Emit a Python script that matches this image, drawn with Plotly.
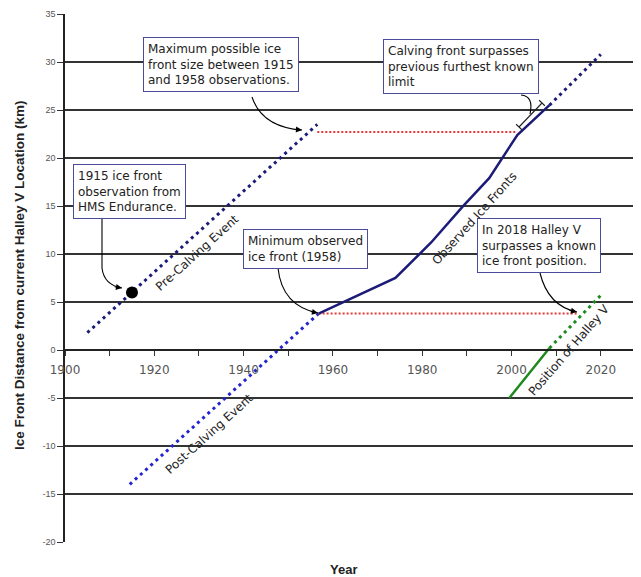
import plotly.graph_objects as go

# ---------------- data ----------------
pre_years = [1905.0, 1956.5]
pre_vals = [1.8, 23.5]

post_years = [1914.5, 1956.8]
post_vals = [-14.0, 3.8]

obs_years = [1956.8, 1974.0, 1982.0, 1989.0, 1995.0, 2001.3, 2008.5]
obs_vals = [3.8, 7.5, 11.2, 14.9, 17.9, 22.4, 25.5]

obs_proj_years = [2008.5, 2020.0]
obs_proj_vals = [25.5, 30.8]

max_years = [1956.5, 2001.3]
max_vals = [22.7, 22.7]

min_years = [1956.8, 2015.0]
min_vals = [3.8, 3.8]

halley_years = [1999.5, 2004.0, 2008.5]
halley_vals = [-5.0, -2.4, 0.2]

halley_proj_years = [2008.5, 2020.0]
halley_proj_vals = [0.2, 5.7]

obs1915_year = [1915]
obs1915_val = [6.0]

x_ticks = [1900, 1920, 1940, 1960, 1980, 2000, 2020]
y_ticks = [-20, -15, -10, -5, 0, 5, 10, 15, 20, 25, 30, 35]

# ---------------- geometry helpers (layout only) ----------------
BODY = 8                      # default page body margin
W, H = 641 - BODY, 577 - BODY
PL, PT, PR, PB = 65, 14, 641, 542   # plot area in page pixels
X0, X1 = 1900, 2029
Y0, Y1 = -20, 35
pw = PR - PL
ph = PB - PT


def dx(px):
    return X0 + (px - PL) / pw * (X1 - X0)


def dy(py):
    return Y1 - (py - PT) / ph * (Y1 - Y0)


def pxp(px):
    return (px - PL) / pw


def pyp(py):
    return (PB - py) / ph


fig = go.Figure()

NAVY = "#1c1c78"
BLUE = "#2323d0"
RED = "#e63838"
GREEN = "#1e8a1e"

fig.add_trace(go.Scatter(x=pre_years, y=pre_vals, mode="lines",
                         line=dict(color=NAVY, width=3, dash="3px,4px")))
fig.add_trace(go.Scatter(x=post_years, y=post_vals, mode="lines",
                         line=dict(color=BLUE, width=3, dash="3px,4px")))
fig.add_trace(go.Scatter(x=max_years, y=max_vals, mode="lines",
                         line=dict(color=RED, width=2, dash="2px,2px")))
fig.add_trace(go.Scatter(x=min_years, y=min_vals, mode="lines",
                         line=dict(color=RED, width=2, dash="2px,2px")))
fig.add_trace(go.Scatter(x=obs_years, y=obs_vals, mode="lines",
                         line=dict(color=NAVY, width=2.5)))
fig.add_trace(go.Scatter(x=obs_proj_years, y=obs_proj_vals, mode="lines",
                         line=dict(color=NAVY, width=3, dash="3px,4px")))
fig.add_trace(go.Scatter(x=halley_years, y=halley_vals, mode="lines",
                         line=dict(color=GREEN, width=2.5, shape="spline")))
fig.add_trace(go.Scatter(x=halley_proj_years, y=halley_proj_vals, mode="lines",
                         line=dict(color=GREEN, width=3, dash="3px,4px")))
fig.add_trace(go.Scatter(x=obs1915_year, y=obs1915_val, mode="markers",
                         marker=dict(color="black", size=12)))

BOXFONT = dict(family="DejaVu Sans", size=12, color="#222222")
annotations = []
shapes = []


def box(text, left, top):
    annotations.append(dict(
        x=dx(left), y=dy(top), xref="x", yref="y", xanchor="left", yanchor="top",
        text=text, align="left", showarrow=False, font=BOXFONT,
        bgcolor="white", bordercolor="#4b4b9b", borderwidth=1, borderpad=4))


def curve(points, head=True):
    (x0, y0), (cx, cy), (x1, y1) = points[-3:]
    pre = points[:-3]
    path = ""
    if pre:
        path += "M {},{} ".format(dx(pre[0][0]), dy(pre[0][1]))
        for p in pre[1:]:
            path += "L {},{} ".format(dx(p[0]), dy(p[1]))
        path += "L {},{} ".format(dx(x0), dy(y0))
    else:
        path += "M {},{} ".format(dx(x0), dy(y0))
    path += "Q {},{} {},{}".format(dx(cx), dy(cy), dx(x1), dy(y1))
    shapes.append(dict(type="path", xref="x", yref="y", path=path,
                       line=dict(color="black", width=1.1)))
    if head:
        ddx, ddy = x1 - cx, y1 - cy
        n = (ddx ** 2 + ddy ** 2) ** 0.5
        annotations.append(dict(
            x=dx(x1), y=dy(y1), xref="x", yref="y", text="", showarrow=True,
            ax=-ddx / n * 9, ay=-ddy / n * 9, arrowhead=2, arrowsize=1.1,
            arrowwidth=1.1, arrowcolor="black", standoff=0))


box("Maximum possible ice<br>front size between 1915<br>and 1958 observations.", 143, 37)
box("Calving front surpasses<br>previous furthest known<br>limit", 383, 39)
box("1915 ice front<br>observation from<br>HMS Endurance.", 73, 164)
box("Minimum observed<br>ice front (1958)", 243, 229)
box("In 2018 Halley V<br>surpasses a known<br>ice front position.", 477, 218)

curve([(252, 97), (262, 127), (302, 130)])
curve([(102, 218), (102, 268), (104, 285), (122, 288)])
curve([(278, 268), (282, 306), (318, 313)])
curve([(540, 273), (548, 306), (577, 312)])
curve([(521, 95), (534, 96), (530, 114)], head=False)

# bracket marking the surpassed limit
p1, p2 = (519, 127), (542, 103)
ux, uy = 0.72, 0.69
c = 4
bp = "M {},{} L {},{} ".format(dx(p1[0]), dy(p1[1]), dx(p2[0]), dy(p2[1]))
for p in (p1, p2):
    bp += "M {},{} L {},{} ".format(dx(p[0] - ux * c), dy(p[1] - uy * c),
                                    dx(p[0] + ux * c), dy(p[1] + uy * c))
shapes.append(dict(type="path", xref="x", yref="y", path=bp,
                   line=dict(color="#222222", width=1.1)))

LABFONT = dict(family="DejaVu Sans", size=12, color="#222222")
for text, cxp, cyp, ang in [("Pre-Calving Event", 197, 253, -42),
                            ("Post-Calving Event", 209, 434, -42),
                            ("Observed Ice Fronts", 474, 219, -48),
                            ("Position of Halley V", 569, 350, -49)]:
    annotations.append(dict(x=dx(cxp), y=dy(cyp), xref="x", yref="y", text=text,
                            xanchor="center", yanchor="middle",
                            textangle=ang, showarrow=False, font=LABFONT))

annotations.append(dict(x=pxp(19), y=pyp(275), xref="paper", yref="paper",
                        xanchor="center", yanchor="middle",
                        text="<b>Ice Front Distance from current Halley V Location (km)</b>",
                        textangle=-90, showarrow=False,
                        font=dict(family="Liberation Sans", size=13.5, color="#222222")))
annotations.append(dict(x=pxp(343), y=pyp(569), xref="paper", yref="paper",
                        xanchor="center", yanchor="middle",
                        text="<b>Year</b>", showarrow=False,
                        font=dict(family="Liberation Sans", size=13, color="#222222")))

fig.update_layout(
    width=W, height=H,
    margin=dict(l=PL - BODY, r=W - (PR - BODY), t=PT - BODY, b=H - (PB - BODY), pad=0),
    paper_bgcolor="white", plot_bgcolor="white", showlegend=False,
    annotations=annotations, shapes=shapes,
    xaxis=dict(range=[X0, X1], anchor="free", position=20 / 55,
               tickvals=x_ticks, ticktext=[str(v) for v in x_ticks],
               ticks="outside", ticklen=5, tickcolor="#333333", ticklabelstandoff=4,
               minor=dict(tickvals=list(range(1910, 2030, 20)), ticks="outside",
                          ticklen=5, tickcolor="#333333"),
               showline=True, linecolor="#222222", linewidth=1.5,
               showgrid=False, zeroline=False,
               tickfont=dict(family="DejaVu Sans", size=12, color="#555555")),
    yaxis=dict(range=[Y0, Y1], tickvals=y_ticks, ticktext=[str(v) for v in y_ticks],
               ticks="outside", ticklen=6, tickcolor="#333333",
               showline=True, linecolor="#222222", linewidth=1.5,
               showgrid=True, gridcolor="#333333", gridwidth=1.5, zeroline=False,
               tickfont=dict(family="Liberation Sans", size=9, color="#555555")),
)

fig.write_html("out.html")
